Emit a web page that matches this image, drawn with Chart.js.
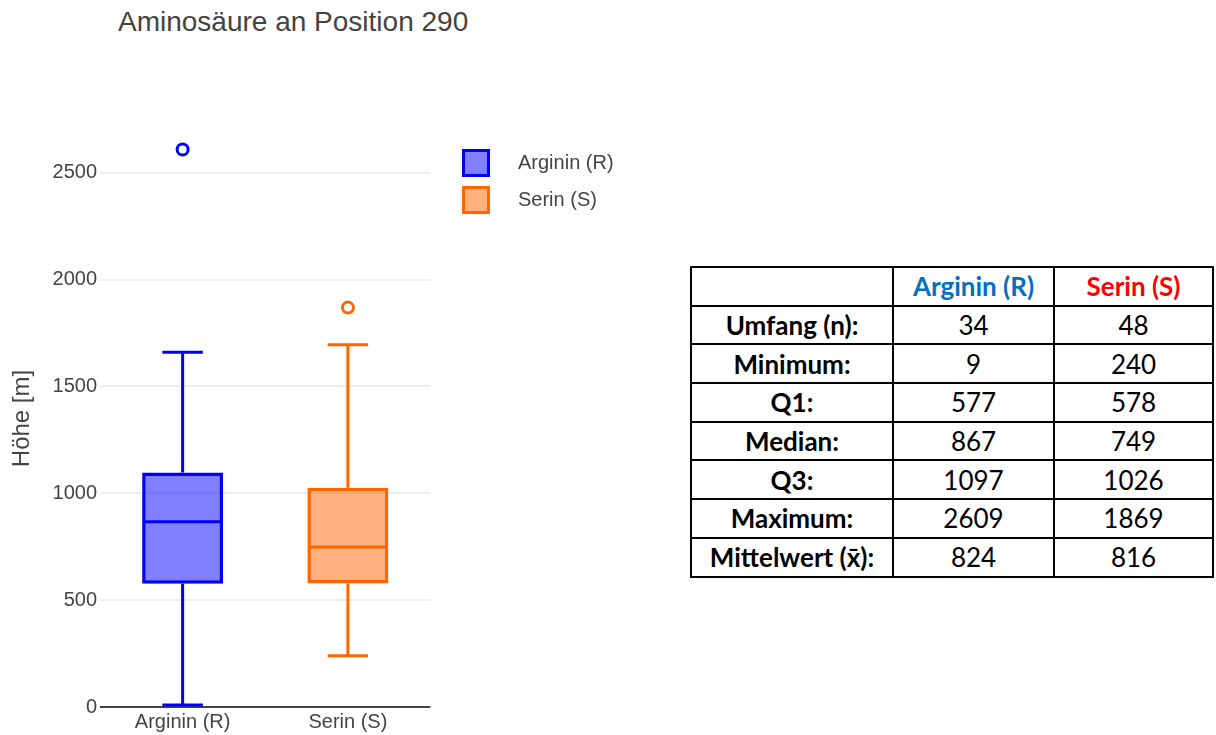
<!DOCTYPE html>
<html>
<head>
<meta charset="utf-8">
<script src="https://cdn.jsdelivr.net/npm/chart.js@4.4.1/dist/chart.umd.min.js"></script>
<style>
  body { margin: 0; background: #fff; font-family: Arial, "Liberation Sans", sans-serif; }
  #page { position: relative; width: 1216px; height: 735px; overflow: hidden; }
  #title { position: absolute; left: 118px; top: 6px; font-size: 28px; color: #444; white-space: nowrap; }
  #chartBox { position: absolute; left: 0; top: 0; width: 660px; height: 735px; }
  #stats { position: absolute; left: 690px; top: 266px; border-collapse: collapse;
           font-family: Lato, "Open Sans", sans-serif; font-size: 26px; color: #000; }
  #stats td, #stats th { border: 2px solid #000; text-align: center; padding: 0; height: 36.7px; }
  #stats th { font-weight: bold; }
  #stats td.lbl { font-weight: bold; }
</style>
</head>
<body>
<div id="page">
  <div id="title">Aminosäure an Position 290</div>
  <div id="chartBox"><canvas id="box"></canvas></div>
  <table id="stats"></table>
</div>
<script>
/* ---------- DATA ---------- */
const categories = ["Arginin (R)", "Serin (S)"];
const lowerFence = [9, 240];
const q1 = [577, 578];
const median = [867, 749];
const q3 = [1097, 1026];
const upperFence = [1660, 1695];
const outliers = [[2609], [1869]];
const yTicks = [0, 500, 1000, 1500, 2000, 2500];

const lineColors = ["#0000ff", "#ff6600"];
const fillColors = ["rgba(0,0,255,0.5)", "rgba(255,102,0,0.5)"];

const rowLabels = ["Umfang (n):", "Minimum:", "Q1:", "Median:", "Q3:", "Maximum:", "Mittelwert (x̄):"];
const argininStats = [34, 9, 577, 867, 1097, 2609, 824];
const serinStats = [48, 240, 578, 749, 1026, 1869, 816];

/* ---------- TABLE ---------- */
const table = document.getElementById("stats");
let html = '<tr><th style="width:200px"></th>' +
  '<th style="width:159px;color:#0070c0">Arginin (R)</th>' +
  '<th style="width:157px;color:#ff0000">Serin (S)</th></tr>';
rowLabels.forEach((lbl, i) => {
  html += `<tr><td class="lbl">${lbl}</td><td>${argininStats[i]}</td><td>${serinStats[i]}</td></tr>`;
});
table.innerHTML = html;

/* ---------- LEGEND ICONS ---------- */
// square swatches used as legend point styles, so the text can sit further right
const legendIcons = categories.map((c, i) => {
  const cv = document.createElement("canvas");
  cv.width = 28; cv.height = 28;
  const g = cv.getContext("2d");
  g.fillStyle = fillColors[i];
  g.fillRect(1.5, 1.5, 25, 25);
  g.strokeStyle = lineColors[i];
  g.lineWidth = 3;
  g.strokeRect(1.5, 1.5, 25, 25);
  return cv;
});

/* ---------- BOX PLOT ---------- */
// whiskers, caps and medians drawn on top of the floating bars
const boxParts = {
  id: "boxParts",
  afterDatasetsDraw(chart) {
    const ctx = chart.ctx;
    const x = chart.scales.x, y = chart.scales.y;
    categories.forEach((c, i) => {
      const cx = x.getPixelForValue(i);
      const bar = chart.getDatasetMeta(i).data[i];
      const half = bar.width / 2;
      ctx.save();
      ctx.strokeStyle = lineColors[i];
      ctx.lineWidth = 3;
      ctx.beginPath();
      ctx.moveTo(cx, y.getPixelForValue(q3[i]));
      ctx.lineTo(cx, y.getPixelForValue(upperFence[i]));
      ctx.moveTo(cx, y.getPixelForValue(q1[i]));
      ctx.lineTo(cx, y.getPixelForValue(lowerFence[i]));
      ctx.moveTo(cx - half / 2, y.getPixelForValue(upperFence[i]));
      ctx.lineTo(cx + half / 2, y.getPixelForValue(upperFence[i]));
      ctx.moveTo(cx - half / 2, y.getPixelForValue(lowerFence[i]));
      ctx.lineTo(cx + half / 2, y.getPixelForValue(lowerFence[i]));
      ctx.moveTo(cx - half + 1.5, y.getPixelForValue(median[i]));
      ctx.lineTo(cx + half - 1.5, y.getPixelForValue(median[i]));
      ctx.stroke();
      ctx.restore();
    });
  }
};

// place the legend like the original (right of the plot, a bit lower)
const legendShift = {
  id: "legendShift",
  afterLayout(chart) {
    const l = chart.legend;
    const dx = 427 - l.left, dy = 136 - l.top;
    l.left += dx;
    l.right = chart.width;
    l.top += dy; l.bottom += dy;
  }
};

const boxSets = categories.map((c, i) => ({
  type: "bar",
  label: c,
  data: categories.map((_, j) => j === i ? [q1[i], q3[i]] : null),
  backgroundColor: fillColors[i],
  borderColor: lineColors[i],
  borderWidth: 3.5,
  borderSkipped: false,
  grouped: false,
  barPercentage: 0.49,
  categoryPercentage: 1,
  order: 2
}));

const outlierSets = categories.map((c, i) => ({
  type: "line",
  label: c + " outliers",
  data: outliers[i].map(v => ({ x: c, y: v })),
  showLine: false,
  pointRadius: 5.5,
  pointBorderWidth: 3,
  pointBackgroundColor: "#fff",
  pointBorderColor: lineColors[i],
  order: 1
}));

const font = "Arial, 'Liberation Sans', sans-serif";

new Chart(document.getElementById("box"), {
  data: { labels: categories, datasets: [...boxSets, ...outlierSets] },
  plugins: [boxParts, legendShift],
  options: {
    responsive: true,
    maintainAspectRatio: false,
    animation: false,
    layout: { padding: { top: 130, left: 0, right: 86, bottom: 0 } },
    plugins: {
      tooltip: { enabled: false },
      legend: {
        position: "right",
        align: "start",
        labels: {
          usePointStyle: true,
          pointStyleWidth: 64,
          generateLabels: chart =>
            Chart.defaults.plugins.legend.labels.generateLabels(chart)
              .filter(item => item.datasetIndex < categories.length)
              .map(item => ({ ...item, pointStyle: legendIcons[item.datasetIndex] })),
          padding: 17,
          color: "#444",
          font: { family: font, size: 20 }
        }
      }
    },
    scales: {
      x: {
        type: "category",
        offset: true,
        grid: { display: false, drawTicks: false },
        border: { display: false },
        ticks: { color: "#444", padding: 3, font: { family: font, size: 20 } },
        afterFit: s => { s.height = 28; }
      },
      y: {
        min: 0,
        max: 2700,
        afterBuildTicks: s => { s.ticks = yTicks.map(v => ({ value: v })); },
        grid: {
          drawTicks: false,
          lineWidth: 2,
          color: ctx => ctx.tick && ctx.tick.value === 0 ? "#444" : "#eeeeee"
        },
        border: { display: false },
        ticks: {
          color: "#444",
          padding: 3,
          font: { family: font, size: 20 },
          callback: v => String(v)
        },
        title: {
          display: true,
          text: "Höhe [m]",
          color: "#444",
          padding: { top: 8, bottom: 0 },
          font: { family: font, size: 24 }
        },
        afterFit: s => { s.width = 100; }
      }
    }
  }
});
</script>
</body>
</html>
